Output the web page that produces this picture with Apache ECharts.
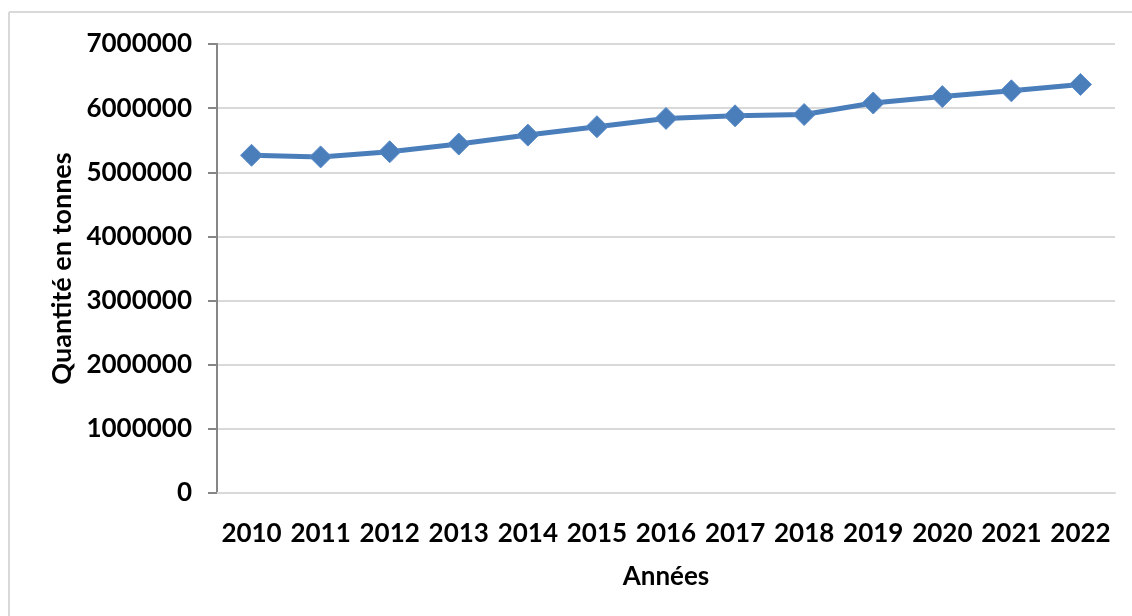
<!DOCTYPE html>
<html>
<head>
<meta charset="utf-8">
<style>
  html, body { margin: 0; padding: 0; background: #ffffff; }
  #chart { width: 1132px; height: 616px; }
</style>
<script src="https://cdn.jsdelivr.net/npm/echarts@6/dist/echarts.min.js"></script>
</head>
<body>
<div id="chart"></div>
<script>
// Quantité annuelle (tonnes), 2010–2022
const annees = ['2010', '2011', '2012', '2013', '2014', '2015', '2016', '2017', '2018', '2019', '2020', '2021', '2022'];
const quantites = [5265000, 5240000, 5320000, 5440000, 5580000, 5710000, 5840000, 5880000, 5900000, 6080000, 6180000, 6270000, 6370000];
const yTicks = { min: 0, max: 7000000, interval: 1000000 };

const FONT = 'Lato, "Open Sans", sans-serif';
const BLUE = '#4a7ebb';

const chart = echarts.init(document.getElementById('chart'), null, { renderer: 'canvas' });

chart.setOption({
  backgroundColor: '#ffffff',
  animation: false,
  graphic: [
    // frame: top and left edges
    { type: 'line', shape: { x1: 9, y1: 12, x2: 1132, y2: 12 }, style: { stroke: '#d9d9d9', lineWidth: 2 } },
    { type: 'line', shape: { x1: 9, y1: 12, x2: 9, y2: 616 }, style: { stroke: '#d9d9d9', lineWidth: 2 } }
  ],
  grid: { left: 217, right: 17, top: 44, bottom: 123, containLabel: false },
  xAxis: {
    type: 'category',
    data: annees,
    boundaryGap: true,
    name: 'Années',
    nameLocation: 'middle',
    nameGap: 71,
    nameTextStyle: { fontFamily: FONT, fontWeight: 'bold', fontSize: 26, color: '#000' },
    axisLine: { show: true, lineStyle: { color: '#d9d9d9', width: 2 } },
    axisTick: { show: false },
    axisLabel: { fontFamily: FONT, fontWeight: 'bold', fontSize: 26, color: '#000', margin: 28, interval: 0 },
    splitLine: { show: false }
  },
  yAxis: {
    type: 'value',
    min: yTicks.min,
    max: yTicks.max,
    interval: yTicks.interval,
    name: 'Quantité en tonnes',
    nameLocation: 'middle',
    nameRotate: 90,
    nameGap: 138,
    nameTextStyle: { fontFamily: FONT, fontWeight: 'bold', fontSize: 27, color: '#000' },
    axisLine: { show: true, lineStyle: { color: '#868686', width: 2 } },
    axisTick: { show: true, inside: false, length: 9, lineStyle: { color: '#868686', width: 2 } },
    axisLabel: {
      fontFamily: FONT, fontWeight: 'bold', fontSize: 26, color: '#000', margin: 25,
      formatter: function (v) { return String(v); }
    },
    splitLine: { show: true, lineStyle: { color: '#d9d9d9', width: 2 } }
  },
  series: [{
    type: 'line',
    data: quantites,
    symbol: 'diamond',
    symbolSize: 22,
    lineStyle: { color: BLUE, width: 5 },
    itemStyle: { color: BLUE, borderColor: '#5a8cc8', borderWidth: 1 },
    z: 3
  }]
});
</script>
</body>
</html>
